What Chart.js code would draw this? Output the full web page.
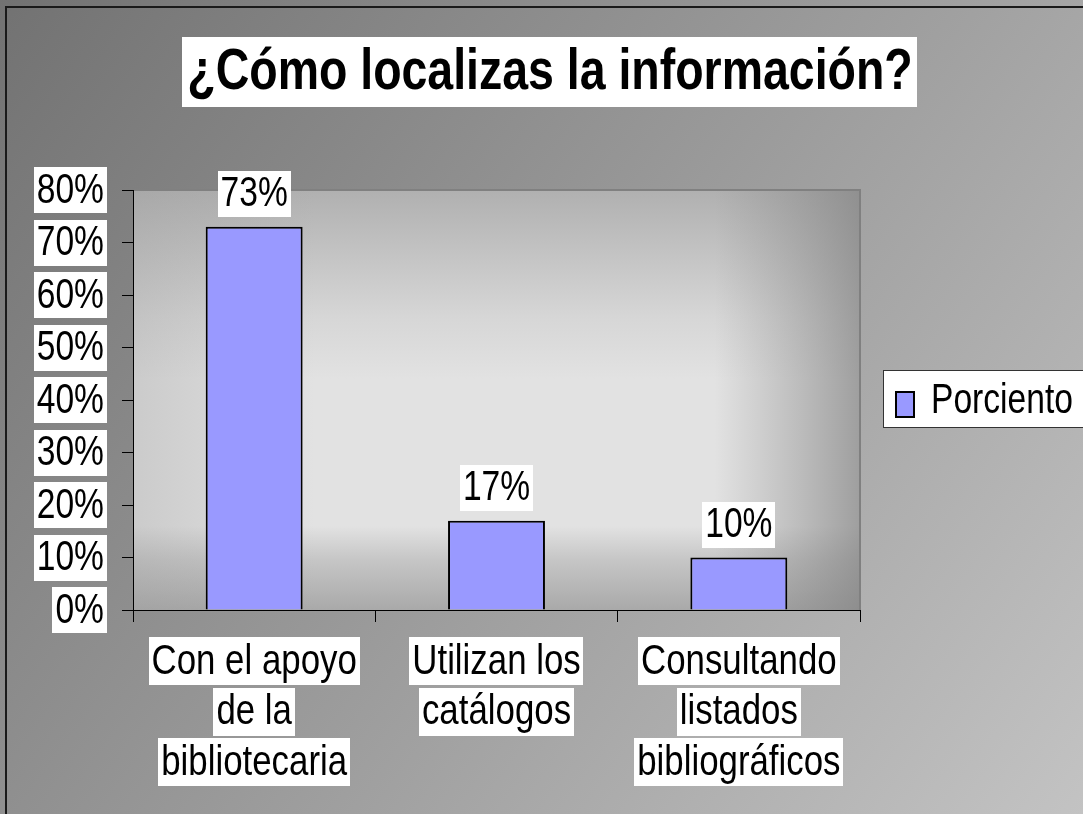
<!DOCTYPE html>
<html>
<head>
<meta charset="utf-8">
<script src="https://cdn.jsdelivr.net/npm/chart.js@4"></script>
<style>
  html, body { margin: 0; padding: 0; background: #fff; }
  canvas { display: block; }
</style>
</head>
<body>
<canvas id="chart" width="1083" height="814"></canvas>
<script>
// datos
const title = "¿Cómo localizas la información?";
const categories = [
  ["Con el apoyo", "de la", "bibliotecaria"],
  ["Utilizan los", "catálogos"],
  ["Consultando", "listados", "bibliográficos"]
];
const seriesName = "Porciento";
const values = [73, 17, 10];
const yTicks = [0, 10, 20, 30, 40, 50, 60, 70, 80];

const FONT = "'Liberation Sans', Arial, sans-serif";
const SX = 0.8; // texto estrecho como en el original

// texto comprimido en horizontal con caja blanca, centrado en (cx, cy)
function boxedText(ctx, text, cx, cy, font, sx, padX, h, align) {
  ctx.font = font;
  const w = ctx.measureText(text).width * sx;
  if (align === "right") cx = cx - w / 2;
  if (align === "left") cx = cx + w / 2;
  if (h) {
    ctx.fillStyle = "#fff";
    ctx.fillRect(Math.round(cx - w / 2 - padX), Math.round(cy - h / 2), Math.round(w + padX * 2), h);
  }
  ctx.save();
  ctx.translate(cx, cy);
  ctx.scale(sx, 1);
  ctx.fillStyle = "#000";
  ctx.textAlign = "center";
  ctx.textBaseline = "middle";
  ctx.fillText(text, 0, 1);
  ctx.restore();
}

const decor = {
  id: "decor",
  beforeDraw(chart) {
    const { ctx, width, height, chartArea: a } = chart;
    ctx.save();
    // fondo
    const bg = ctx.createLinearGradient(0, 0, width, height);
    bg.addColorStop(0, "#727272");
    bg.addColorStop(1, "#c3c3c3");
    ctx.fillStyle = bg;
    ctx.fillRect(0, 0, width, height);
    ctx.strokeStyle = "#1a1a1a";
    ctx.lineWidth = 2;
    ctx.strokeRect(6, 7, width, height);

    // area de trazado
    const v = ctx.createLinearGradient(0, a.top, 0, a.bottom);
    v.addColorStop(0, "#b0b0b0");
    v.addColorStop(0.3, "#d6d6d6");
    v.addColorStop(0.45, "#e2e2e2");
    v.addColorStop(0.8, "#e2e2e2");
    v.addColorStop(0.88, "#c6c6c6");
    v.addColorStop(1, "#a9a9a9");
    ctx.fillStyle = v;
    ctx.fillRect(a.left, a.top, a.width, a.height);
    const hz = ctx.createLinearGradient(a.left, 0, a.right, 0);
    hz.addColorStop(0, "rgba(150,150,150,0.3)");
    hz.addColorStop(0.25, "rgba(150,150,150,0)");
    hz.addColorStop(0.8, "rgba(140,140,140,0)");
    hz.addColorStop(1, "rgba(130,130,130,0.7)");
    ctx.fillStyle = hz;
    ctx.fillRect(a.left, a.top, a.width, a.height);
    ctx.strokeStyle = "#808080";
    ctx.lineWidth = 2;
    ctx.beginPath();
    ctx.moveTo(a.left, a.top);
    ctx.lineTo(a.right, a.top);
    ctx.lineTo(a.right, a.bottom);
    ctx.stroke();

    // titulo
    boxedText(ctx, title, 550, 72, "bold 57px " + FONT, 0.815, 5, 70);

    // leyenda
    ctx.fillStyle = "#fff";
    ctx.fillRect(883, 370, 220, 57);
    ctx.strokeStyle = "#333";
    ctx.lineWidth = 1;
    ctx.strokeRect(883.5, 370.5, 220, 57);
    ctx.fillStyle = "#9999ff";
    ctx.fillRect(896, 392, 18, 25);
    ctx.strokeStyle = "#000";
    ctx.lineWidth = 2;
    ctx.strokeRect(896, 392, 18, 25);
    boxedText(ctx, seriesName, 931, 400, "42px " + FONT, SX, 0, 0, "left");

    // etiquetas del eje y
    const ys = chart.scales.y;
    yTicks.forEach(t => {
      boxedText(ctx, t + "%", 104, ys.getPixelForValue(t), "42px " + FONT, SX, 3, 46, "right");
    });
    ctx.restore();
  },
  afterDatasetsDraw(chart) {
    const { ctx } = chart;
    ctx.save();
    chart.getDatasetMeta(0).data.forEach((bar, i) => {
      boxedText(ctx, values[i] + "%", bar.x, bar.y - 10 - 23, "42px " + FONT, SX, 3, 46);
    });
    ctx.restore();
  },
  afterDraw(chart) {
    const { ctx } = chart;
    const xs = chart.scales.x;
    ctx.save();
    categories.forEach((lines, i) => {
      const cx = xs.getPixelForValue(i);
      lines.forEach((line, j) => {
        boxedText(ctx, line, cx, 661 + j * 50.5, "43px " + FONT, 0.81, 3, 48);
      });
    });
    ctx.restore();
  }
};

new Chart(document.getElementById("chart"), {
  type: "bar",
  data: {
    labels: categories,
    datasets: [{
      label: seriesName,
      data: values,
      backgroundColor: "#9999ff",
      borderColor: "#000",
      borderWidth: 2,
      barPercentage: 0.4,
      categoryPercentage: 1
    }]
  },
  options: {
    responsive: false,
    animation: false,
    layout: { padding: { left: 0, top: 190, right: 223, bottom: 0 } },
    plugins: {
      legend: { display: false },
      title: { display: false },
      tooltip: { enabled: false }
    },
    scales: {
      x: {
        offset: true,
        grid: { offset: true, drawOnChartArea: false, tickLength: 12, color: "#000" },
        border: { color: "#000", width: 1 },
        ticks: { display: false },
        afterFit: s => { s.height = 204; }
      },
      y: {
        min: 0,
        max: 80,
        afterBuildTicks: s => { s.ticks = yTicks.map(v => ({ value: v })); },
        ticks: { display: false },
        grid: { drawOnChartArea: false, tickLength: 11, color: "#000" },
        border: { color: "#000", width: 1 },
        afterFit: s => { s.width = 133; }
      }
    }
  },
  plugins: [decor]
});
</script>
</body>
</html>
